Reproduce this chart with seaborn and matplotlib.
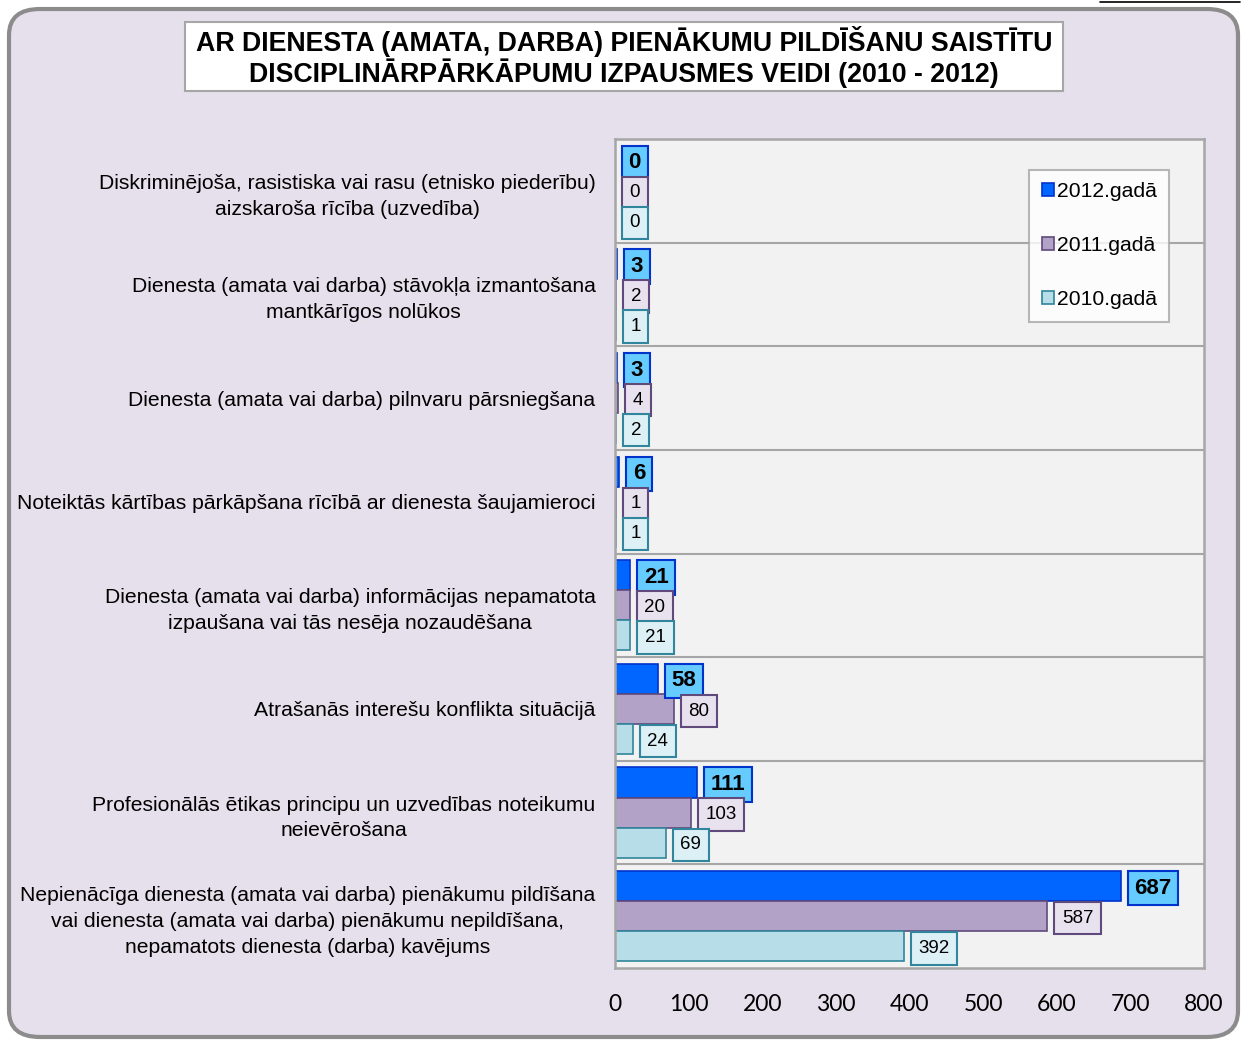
import matplotlib
matplotlib.use("Agg")
import matplotlib.pyplot as plt
from matplotlib.patches import FancyBboxPatch, Rectangle
from matplotlib.lines import Line2D
import pandas as pd
import seaborn as sns

categories = [
    "Diskriminējoša, rasistiska vai rasu (etnisko piederību)\naizskaroša rīcība (uzvedība)",
    "Dienesta (amata vai darba) stāvokļa izmantošana\nmantkārīgos nolūkos",
    "Dienesta (amata vai darba) pilnvaru pārsniegšana",
    "Noteiktās kārtības pārkāpšana rīcībā ar dienesta šaujamieroci",
    "Dienesta (amata vai darba) informācijas nepamatota\nizpaušana vai tās nesēja nozaudēšana",
    "Atrašanās interešu konflikta situācijā",
    "Profesionālās ētikas principu un uzvedības noteikumu\nneievērošana",
    "Nepienācīga dienesta (amata vai darba) pienākumu pildīšana\nvai dienesta (amata vai darba) pienākumu nepildīšana,\nnepamatots dienesta (darba) kavējums",
]
years = ["2012.gadā", "2011.gadā", "2010.gadā"]
vals_2012 = [0, 3, 3, 6, 21, 58, 111, 687]
vals_2011 = [0, 2, 4, 1, 20, 80, 103, 587]
vals_2010 = [0, 1, 2, 1, 21, 24, 69, 392]

title = ("AR DIENESTA (AMATA, DARBA) PIENĀKUMU PILDĪŠANU SAISTĪTU\n"
         "DISCIPLINĀRPĀRKĀPUMU IZPAUSMES VEIDI (2010 - 2012)")

bar_colors = {"2012.gadā": "#0066ff", "2011.gadā": "#b3a2c7", "2010.gadā": "#b7dde8"}
edge_colors = {"2012.gadā": "#0033cc", "2011.gadā": "#604a7b", "2010.gadā": "#31859c"}
box_colors = {"2012.gadā": "#66ccff", "2011.gadā": "#e8e1ee", "2010.gadā": "#dcf0f5"}

rows = []
for yr, vals in zip(years, [vals_2012, vals_2011, vals_2010]):
    for cat, v in zip(categories, vals):
        rows.append({"cat": cat, "year": yr, "value": v})
df = pd.DataFrame(rows)

sns.set_style("white")
plt.rcParams["font.family"] = ["Liberation Sans", "DejaVu Sans"]
plt.rcParams["text.color"] = "black"
plt.rcParams["xtick.color"] = "black"
plt.rcParams["ytick.color"] = "black"

fig = plt.figure(figsize=(12.42, 10.41), dpi=100)
fig.patch.set_facecolor("white")

# rounded lavender panel
W, H = 1242, 1041
panel = FancyBboxPatch((9 / W, 4 / H), 1229 / W, 1028 / H,
                       boxstyle="round,pad=0,rounding_size=0.025",
                       transform=fig.transFigure, facecolor="#e5e0ec",
                       edgecolor="#8c8c8c", linewidth=3, zorder=0)
fig.add_artist(panel)
fig.add_artist(Line2D([1100 / W, 1240 / W], [1 - 2 / H, 1 - 2 / H],
                      transform=fig.transFigure, color="black", linewidth=1.2))

ax = fig.add_axes([615 / W, 1 - 968 / H, 589 / W, 829 / H])
ax.set_facecolor("#f2f2f2")

sns.barplot(data=df, y="cat", x="value", hue="year", hue_order=years,
            order=categories, palette=bar_colors, width=0.87, ax=ax,
            saturation=1, legend=True)

for cont, yr in zip(ax.containers, years):
    for bar in cont:
        bar.set_edgecolor(edge_colors[yr])
        bar.set_linewidth(1.2)
        w = bar.get_width()
        yc = bar.get_y() + bar.get_height() / 2
        bold = yr == "2012.gadā"
        fs = 16 if bold else 13.5
        pad = 0.3 if bold else 0.41
        ax.annotate(f"{int(w)}", xy=(w, yc), xytext=(5 + pad * fs, -1.5),
                    textcoords="offset points", ha="left", va="center", fontsize=fs,
                    fontweight="bold" if bold else "normal", color="black",
                    bbox=dict(boxstyle=f"square,pad={pad}", facecolor=box_colors[yr],
                              edgecolor=edge_colors[yr], linewidth=1.5))

ax.set_xlim(0, 800)
ax.set_xticks(range(0, 801, 100))
ax.set_ylim(len(categories) - 0.5, -0.5)
for yb in [i + 0.5 for i in range(len(categories) - 1)]:
    ax.axhline(yb, color="#a6a6a6", linewidth=1.5, zorder=0.5)
ax.set_xlabel("")
ax.set_ylabel("")
for s in ax.spines.values():
    s.set_color("#a6a6a6")
    s.set_linewidth(1.8)
ax.tick_params(axis="y", length=0, pad=14, labelsize=15.2)
ax.tick_params(axis="x", length=0, pad=19, labelsize=16.5)
for lbl in ax.get_yticklabels():
    lbl.set_multialignment("center")
    lbl.set_linespacing(1.45)
for lbl in ax.get_xticklabels():
    lbl.set_fontfamily(["Lato", "DejaVu Sans"])

leg = ax.legend(loc="upper left", bbox_to_anchor=(0.703, 0.963), fontsize=15.2,
                labelspacing=1.65, handlelength=0.58, handleheight=0.58,
                handletextpad=0.12, borderpad=0.6, frameon=True, fancybox=False,
                borderaxespad=0)
leg.get_frame().set_edgecolor("#a6a6a6")
leg.get_frame().set_linewidth(1.5)
leg.get_frame().set_facecolor("white")
for h, yr in zip(leg.legend_handles, years):
    h.set_edgecolor(edge_colors[yr])
    h.set_linewidth(1.2)

# title box
fig.add_artist(Rectangle((185 / W, 1 - 91 / H), 878 / W, 69 / H, transform=fig.transFigure,
                         facecolor="white", edgecolor="#a6a6a6", linewidth=1.5))
fig.text(624 / W, 1 - 57 / H, title, ha="center", va="center", fontsize=19.3,
         fontweight="bold", linespacing=1.05)

fig.savefig("out.png", dpi=100)
